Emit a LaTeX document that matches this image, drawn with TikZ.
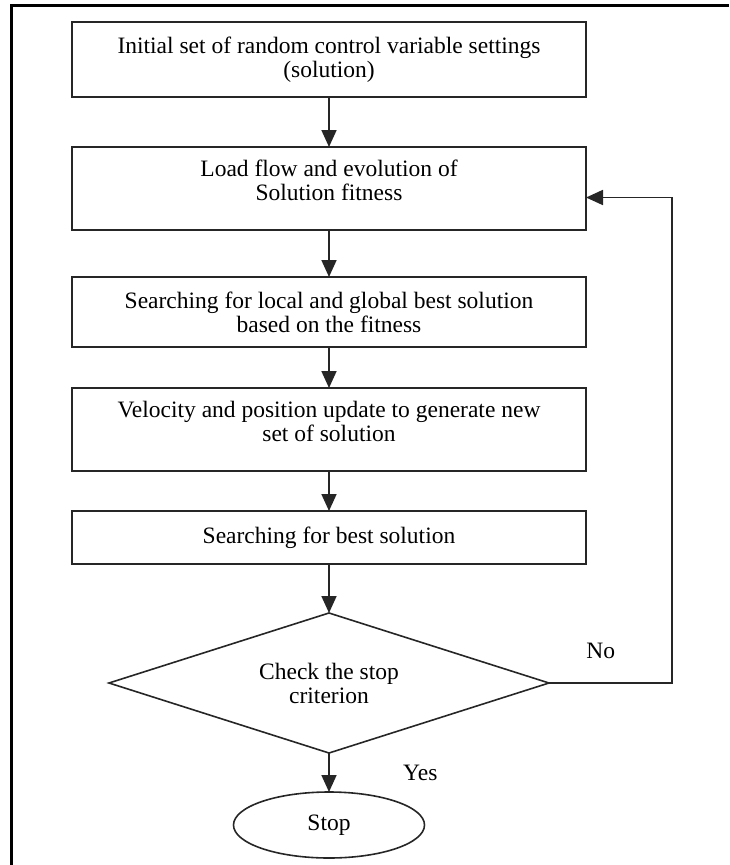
\documentclass[tikz,border=0pt]{standalone}
\usepackage{fontspec}
\setmainfont{Liberation Serif}
\usetikzlibrary{arrows.meta,positioning,shapes.geometric}

\begin{document}
\begin{tikzpicture}[
  x=1pt, y=-1pt,
  font=\fontsize{23.5}{24}\selectfont,
  box/.style={draw=black!85, line width=1.6pt, align=center, inner sep=3pt, outer sep=0pt, minimum width=514pt},
  arr/.style={-{Triangle[length=17pt,width=15pt]}, line width=1.8pt, draw=black!85}
]
\useasboundingbox (0,0) rectangle (729,865);
\draw[line width=3pt] (11,865) -- (11,5) -- (729,5);
\node[box, minimum height=75pt] (init) at (329,59.5) {Initial set of random control variable settings\\(solution)};
\node[box, minimum height=83pt, below=50pt of init] (load) {Load flow and evolution of\\Solution fitness\\[-8pt]\mbox{}};
\node[box, minimum height=70pt, below=47pt of load] (best) {Searching for local and global best solution\\based on the fitness};
\node[box, minimum height=83pt, below=41pt of best] (upd) {Velocity and position update to generate new\\set of solution\\[-8pt]\mbox{}};
\node[box, minimum height=53pt, below=40pt of upd] (srch) {Searching for best solution};
\node[box, diamond, aspect=3.14, inner sep=0pt, minimum width=440pt, minimum height=140pt, below=49pt of srch] (chk) {Check the stop\\criterion};
\node[box, ellipse, minimum width=191pt, minimum height=66pt, below=39pt of chk] (stop) {Stop};
\coordinate[right=123pt of chk.east] (turn);
\draw[arr] (init) -- (load);
\draw[arr] (load) -- (best);
\draw[arr] (best) -- (upd);
\draw[arr] (upd) -- (srch);
\draw[arr] (srch) -- (chk);
\draw[arr] (chk) -- node[right=70pt] {Yes} (stop);
\draw[arr] (chk.east) -- node[pos=0.42, above=20pt] {No} (turn) |- ([yshift=-9pt]load.east);
\end{tikzpicture}
\end{document}
